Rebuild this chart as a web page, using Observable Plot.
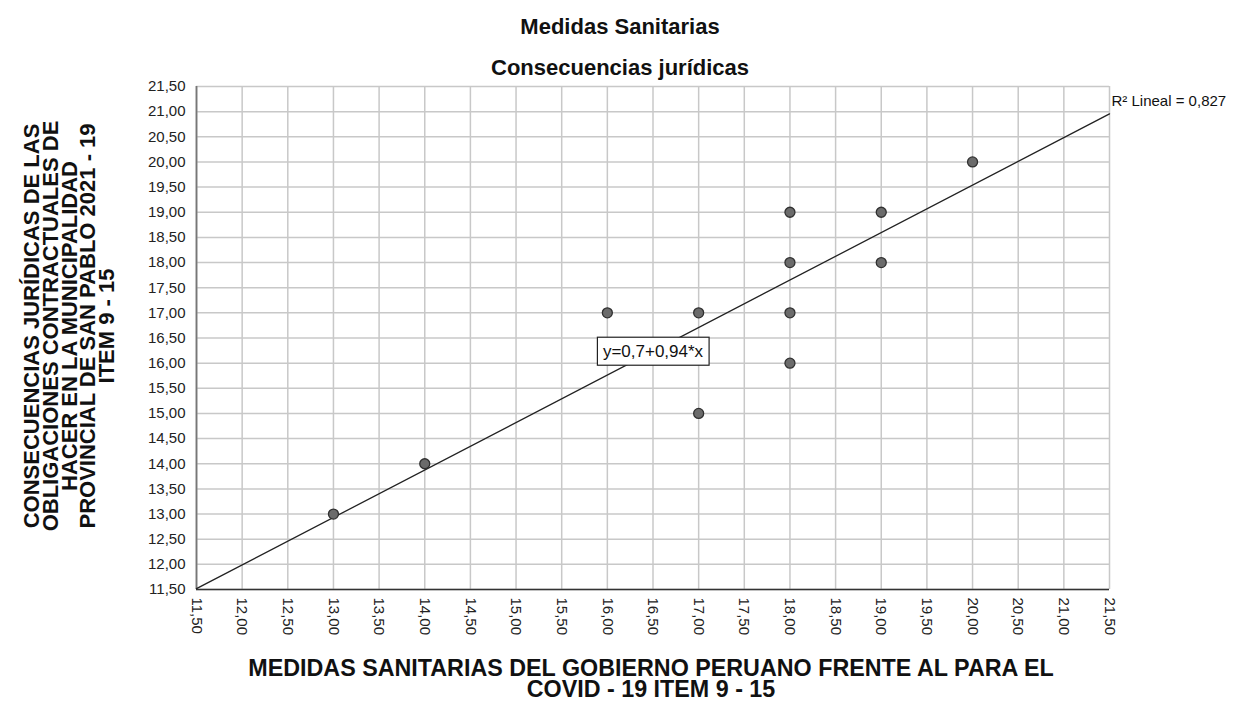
<!DOCTYPE html>
<html><head><meta charset="utf-8">
<script src="https://cdn.jsdelivr.net/npm/d3@7"></script>
<script src="https://cdn.jsdelivr.net/npm/@observablehq/plot@0.6"></script>
<style>
html,body{margin:0;padding:0;background:#fff;}
#chart svg{display:block;}
</style></head><body><div id="chart"></div>
<script>
// Data
const xValues = [13, 14, 16, 17, 17, 18, 18, 18, 18, 19, 19, 20];
const yValues = [13, 14, 17, 17, 15, 19, 18, 17, 16, 19, 18, 20];
const ticks = [11.5, 12, 12.5, 13, 13.5, 14, 14.5, 15, 15.5, 16, 16.5, 17, 17.5, 18, 18.5, 19, 19.5, 20, 20.5, 21, 21.5];
const fitIntercept = 0.66;
const fitSlope = 0.944;
const title = "Medidas Sanitarias";
const subtitle = "Consecuencias jurídicas";
const xLabel = "MEDIDAS SANITARIAS DEL GOBIERNO PERUANO FRENTE AL PARA EL\nCOVID - 19 ITEM 9 - 15";
const yLabel = "CONSECUENCIAS JURÍDICAS DE LAS\nOBLIGACIONES CONTRACTUALES DE\nHACER EN LA MUNICIPALIDAD\nPROVINCIAL DE SAN PABLO 2021 - 19\nITEM 9 - 15";
const equationLabel = "y=0,7+0,94*x";
const r2Label = "R² Lineal = 0,827";

const domain = [ticks[0], ticks[ticks.length - 1]];
const fit = x => fitIntercept + fitSlope * x;
const points = xValues.map((x, i) => ({x, y: yValues[i]}));
const fitPts = domain.map(x => ({x, y: fit(x)}));
const mid = (domain[0] + domain[1]) / 2;
const fmt = d => d3.format(".2f")(d).replace(".", ",");
const font = "'Liberation Sans', Arial, sans-serif";
const gridStyle = {stroke: "#c8c8c8", strokeOpacity: 1, strokeWidth: 1.5};
const labelStyle = {fontWeight: "bold", fill: "#111", textAnchor: "middle", lineAnchor: "middle"};

const plot = Plot.plot({
  width: 1238, height: 704,
  marginLeft: 196, marginRight: 129, marginTop: 86, marginBottom: 115,
  style: {fontFamily: font, background: "#fff", overflow: "visible"},
  x: {domain, label: null},
  y: {domain, label: null},
  marks: [
    Plot.gridX(ticks, gridStyle),
    Plot.gridY(ticks, gridStyle),
    Plot.ruleX([domain[0]], {stroke: "#777", strokeWidth: 1.8}),
    Plot.ruleY([domain[0]], {stroke: "#333", strokeWidth: 1.5}),
    Plot.axisX(ticks, {tickSize: 0, tickPadding: 8, tickRotate: 90, textAnchor: "start", tickFormat: fmt, fontSize: 15, fill: "#222", label: null}),
    Plot.axisY(ticks, {tickSize: 0, tickPadding: 11, tickFormat: fmt, fontSize: 15, fill: "#222", label: null}),
    Plot.line(fitPts, {x: "x", y: "y", stroke: "#222", strokeWidth: 1.3}),
    Plot.dot(points, {x: "x", y: "y", r: 5, fill: "#6b6b6b", stroke: "#303030", strokeWidth: 1.3}),
    Plot.text([{x: mid, y: fit(mid), t: equationLabel}], {x: "x", y: "y", text: "t", fontSize: 17, fill: "#111", className: "eqlabel"}),
    Plot.text([{x: domain[1], y: fit(domain[1]), t: r2Label}], {x: "x", y: "y", text: "t", textAnchor: "start", dx: 2, dy: -13, fontSize: 15, fill: "#111"}),
    Plot.text([title], {frameAnchor: "top", dx: -33, dy: -60, fontSize: 22, ...labelStyle}),
    Plot.text([subtitle], {frameAnchor: "top", dx: -33, dy: -19, fontSize: 22, ...labelStyle}),
    Plot.text([xLabel], {frameAnchor: "bottom", dx: -2, dy: 90, fontSize: 23.3, lineHeight: 0.92, ...labelStyle}),
    Plot.text([yLabel], {frameAnchor: "left", dx: -126, dy: -12, rotate: -90, fontSize: 22, lineHeight: 0.86, ...labelStyle})
  ]
});
document.getElementById("chart").appendChild(plot);

// white box with border behind the equation label
const t = plot.querySelector("g.eqlabel text");
if (t) {
  const bb = t.getBBox();
  const padX = 5.5, padY = 5.5;
  const rect = document.createElementNS("http://www.w3.org/2000/svg", "rect");
  rect.setAttribute("x", bb.x - padX);
  rect.setAttribute("y", bb.y - padY + 1);
  rect.setAttribute("width", bb.width + 2 * padX);
  rect.setAttribute("height", bb.height + 2 * padY - 2);
  rect.setAttribute("fill", "#fff");
  rect.setAttribute("stroke", "#222");
  rect.setAttribute("stroke-width", "1.2");
  const tr = t.getAttribute("transform");
  if (tr) rect.setAttribute("transform", tr);
  t.parentNode.insertBefore(rect, t);
}
</script>
</body></html>
